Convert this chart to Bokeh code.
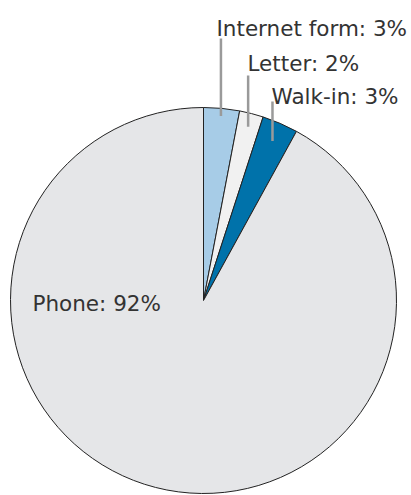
import numpy as np
from bokeh.plotting import figure
from bokeh.models import Range1d, ColumnDataSource
from bokeh.core.properties import value
from bokeh.embed import file_html
from bokeh.resources import INLINE

categories = ["Internet form", "Letter", "Walk-in", "Phone"]
shares = [3, 2, 3, 92]
colors = ["#a7cce7", "#f1f1f1", "#0072aa", "#e5e6e8"]

W, H = 411, 495
p = figure(width=W, height=H, output_backend="svg", toolbar_location=None,
           x_range=Range1d(0, W), y_range=Range1d(0, H),
           min_border=0)
p.axis.visible = False
p.grid.visible = False
p.outline_line_color = None
p.background_fill_color = None
p.border_fill_color = None

cx, cy, r = 203, H - 300, 193
vals = np.array(shares, dtype=float)
frac = vals / vals.sum()
cum = np.concatenate([[0], np.cumsum(frac)])
start = np.pi / 2 - 2 * np.pi * cum[1:]
end = np.pi / 2 - 2 * np.pi * cum[:-1]
src = ColumnDataSource(dict(start=start, end=end, color=colors))
p.wedge(x=cx, y=cy, radius=r, start_angle="start", end_angle="end",
        fill_color="color", line_color="#222222", line_width=1, source=src)

font = value("DejaVu Sans")
fs = "21.5px"
labels = [f"{c}: {v}%" for c, v in zip(categories, shares)]
mid = 2 * np.pi * (cum[:-1] + cum[1:]) / 2  # clockwise from top
anchor_r = [0.96, 0.93, 0.90]
line_top = [38, 75, 101]
text_pos = [(216, 28), (247, 63), (271, 96)]
for i in range(3):
    ax = cx + r * anchor_r[i] * np.sin(mid[i])
    ay = cy + r * anchor_r[i] * np.cos(mid[i])
    p.segment(x0=[ax], y0=[ay], x1=[ax], y1=[H - line_top[i]],
              line_color="#9a9a9a", line_width=2.5)
    p.text(x=[text_pos[i][0]], y=[H - text_pos[i][1]], text=[labels[i]],
           text_font=font, text_font_size=fs, text_color="#333333",
           text_baseline="alphabetic")
p.text(x=[32], y=[H - 303], text=[labels[3]], text_font=font,
       text_font_size=fs, text_color="#333333", text_baseline="alphabetic")

open("out.html", "w").write(file_html(p, INLINE))
